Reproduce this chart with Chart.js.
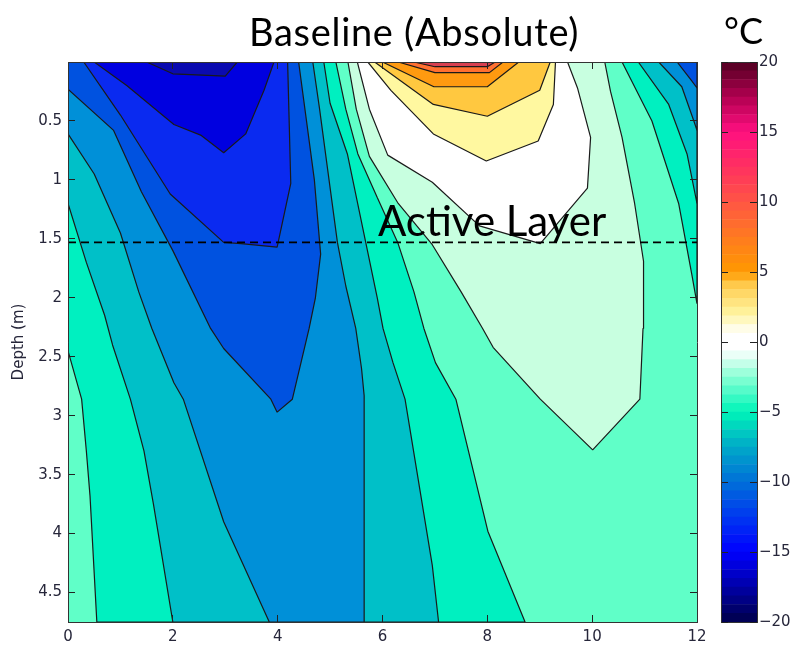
<!DOCTYPE html>
<html>
<head>
<meta charset="utf-8">
<script src="https://cdn.jsdelivr.net/npm/chart.js@4.4.1/dist/chart.umd.min.js"></script>
<style>
  body { margin: 0; background: #fff; width: 790px; height: 651px; position: relative; overflow: hidden; }
  #main { position: absolute; left: 0; top: 0; }
  #cbar { position: absolute; left: 705px; top: 0; }
  .lbl { position: absolute; white-space: nowrap; color: #000; font-family: Lato, sans-serif; line-height: 1; }
</style>
</head>
<body>
<canvas id="main" width="715" height="651"></canvas>
<canvas id="cbar" width="85" height="651"></canvas>
<div class="lbl" style="left:249px; top:12px; font-size:38px; letter-spacing:0.7px;">Baseline (Absolute)</div>
<div class="lbl" style="left:724px; top:12px; font-size:36px;">°C</div>
<div class="lbl" style="left:378px; top:199px; font-size:42px;">Active Layer</div>
<script>
// axes
var xTicks = [0, 2, 4, 6, 8, 10, 12];
var yTicks = [0.5, 1, 1.5, 2, 2.5, 3, 3.5, 4, 4.5];
var cbarTicks = [-20, -15, -10, -5, 0, 5, 10, 15, 20];
var monthMax = 12;
var depthMax = 4.75;
var activeLayerDepth = 1.53;

// contour levels (°C) and fill colour of each band [level i, level i+1]
var bandLevels = [-18, -16, -14, -12, -10, -8, -6, -4, -2, 0, 2, 4, 6, 8, 10, 12];
var bandColors = ['#0a0ab0', '#0000e0', '#0a2af0', '#0052e0', '#0090d8', '#00c0c8', '#00f0c0',
                  '#60ffc8', '#c8ffe0', '#ffffff', '#fff8a0', '#ffc840', '#ff9a10', '#ff7030', '#d84050'];

// contour lines as [month, depth] points
// cold side
var cM16 = [[1.5, 0], [2.0, 0.1], [3.0, 0.12], [3.23, 0]];
var cM14 = [[0.5, 0], [1.12, 0.2], [2.02, 0.53], [2.53, 0.62], [2.97, 0.77], [3.39, 0.61], [3.74, 0.24], [3.93, 0]];
var cM12 = [[0.3, 0], [1.0, 0.45], [1.95, 1.12], [2.97, 1.53], [3.3, 1.54], [3.99, 1.57], [4.25, 1.03], [4.19, 0]];
var cM10 = [[0, 0.23], [0.87, 0.58], [1.4, 1.1], [2.0, 1.6], [2.72, 2.26], [2.97, 2.43], [3.87, 2.86], [3.99, 2.97],
            [4.28, 2.86], [4.6, 2.26], [4.72, 2.0], [4.82, 1.63], [4.7, 1.0], [4.55, 0.5], [4.4, 0]];
var cM10Right = [[11.62, 0], [11.9, 0.16], [12, 0.22]];
var cM8Left = [[0, 0.61], [0.5, 0.95], [1.0, 1.45], [1.35, 1.95], [1.6, 2.26], [2.02, 2.72], [2.2, 2.86], [2.97, 3.9], [3.84, 4.75]];
var cM8Mid = [[4.67, 0], [4.8, 0.4], [4.95, 0.9], [5.14, 1.53], [5.3, 1.9], [5.49, 2.26], [5.6, 2.6], [5.65, 2.83], [5.65, 4.75]];
var cM8Right = [[11.27, 0], [11.71, 0.21], [11.94, 0.5], [12, 0.58]];
var cM6Left = [[0, 1.2], [0.35, 1.7], [0.7, 2.15], [0.85, 2.4], [1.19, 2.86], [1.45, 3.3], [1.63, 3.75], [2.0, 4.75]];
var cM6Mid = [[4.88, 0], [5.0, 0.35], [5.33, 0.78], [5.68, 1.53], [5.9, 2.0], [6.01, 2.26], [6.2, 2.55], [6.43, 2.86], [6.95, 4.27], [7.07, 4.75]];
var cM6Right = [[10.88, 0], [11.46, 0.36], [11.81, 0.78], [12, 1.2]];
var cM4Left = [[0, 2.45], [0.26, 2.86], [0.35, 3.3], [0.42, 3.68], [0.55, 4.75]];
var cM4Mid = [[5.11, 0], [5.3, 0.4], [5.53, 0.78], [5.9, 1.15], [6.29, 1.53], [6.6, 1.95], [6.79, 2.26], [7.01, 2.55], [7.4, 2.86], [8.01, 3.98], [8.72, 4.75]];
var cM4Right = [[10.57, 0], [11.14, 0.5], [11.65, 1.2], [11.9, 1.8], [12, 2.05]];
// warm side
var cM2 = [[5.34, 0], [5.5, 0.4], [5.75, 0.8], [6.3, 1.2], [6.95, 1.55], [7.5, 1.95], [7.91, 2.26], [8.11, 2.42], [9.01, 2.86],
           [10.01, 3.29], [10.91, 2.86], [10.97, 2.26], [10.98, 1.69], [10.81, 1.2], [10.57, 0.64], [10.35, 0.25], [10.24, 0]];
var c0 = [[5.52, 0], [5.75, 0.4], [6.1, 0.79], [6.95, 1.02], [7.85, 1.39], [9.01, 1.54], [9.91, 1.07], [9.97, 0.64], [9.72, 0.22], [9.53, 0]];
var c2 = [[5.72, 0], [6.16, 0.24], [6.97, 0.61], [7.98, 0.84], [8.97, 0.67], [9.26, 0.36], [9.3, 0]];
var c4 = [[5.85, 0], [6.97, 0.36], [8.0, 0.46], [9.0, 0.24], [9.2, 0]];
var c6 = [[6.0, 0], [6.98, 0.21], [8.0, 0.21], [8.6, 0]];
var c8 = [[6.3, 0], [7.0, 0.09], [8.04, 0.09], [8.3, 0]];
var c10 = [[6.6, 0], [7.0, 0.04], [8.0, 0.04], [8.15, 0]];

// colour bar colormap
var cmapStops = [[-20, '#00004a'], [-17.5, '#0000a8'], [-15, '#0000ff'], [-12.5, '#0038f0'], [-10, '#0070d8'],
                 [-7.5, '#00aac8'], [-5, '#00f5b8'], [-2.5, '#8affd4'], [-0.6, '#ffffff'], [0.6, '#ffffff'],
                 [2, '#fff5a0'], [4, '#ffcc50'], [5, '#ff9900'], [7.5, '#ff7a20'], [10, '#ff5545'],
                 [12.5, '#ff3060'], [15, '#ff1080'], [17.5, '#b00050'], [20, '#500020']];

function rev(a) { return a.slice().reverse(); }
function below(level) { return bandColors[bandLevels.indexOf(level) - 1]; }
function above(level) { return bandColors[bandLevels.indexOf(level)]; }

// filled regions, painted in this order (sublevel sets on the cold side, superlevel sets on the warm side)
var regions = [
    { color: above(-4), pts: [[0, 0], [12, 0], [12, depthMax], [0, depthMax]], edge: false },
    { color: below(-4), pts: [[0, 0]].concat(cM4Left, rev(cM4Mid)) },
    { color: below(-4), pts: cM4Right.concat([[12, 0]]) },
    { color: below(-6), pts: [[0, 0]].concat(cM6Left, rev(cM6Mid)) },
    { color: below(-6), pts: cM6Right.concat([[12, 0]]) },
    { color: below(-8), pts: [[0, 0]].concat(cM8Left, rev(cM8Mid)) },
    { color: below(-8), pts: cM8Right.concat([[12, 0]]) },
    { color: below(-10), pts: [[0, 0]].concat(cM10) },
    { color: below(-10), pts: cM10Right.concat([[12, 0]]) },
    { color: below(-12), pts: cM12 },
    { color: below(-14), pts: cM14 },
    { color: below(-16), pts: cM16 },
    { color: above(-2), pts: cM2 },
    { color: above(0), pts: c0 },
    { color: above(2), pts: c2 },
    { color: above(4), pts: c4 },
    { color: above(6), pts: c6 },
    { color: above(8), pts: c8 },
    { color: above(10), pts: c10 }
];

var n = regions.length;
var datasets = regions.map(function (r, i) {
    return {
        data: r.pts.map(function (p) { return { x: p[0], y: p[1] }; }),
        backgroundColor: r.color,
        borderColor: r.edge === false ? 'rgba(0,0,0,0)' : '#1a1a1a',
        borderWidth: 1.2,
        borderJoinStyle: 'bevel',
        fill: 'shape',
        pointRadius: 0,
        tension: 0,
        order: n + 1 - i
    };
});
datasets.push({
    data: [{ x: 0, y: activeLayerDepth }, { x: monthMax, y: activeLayerDepth }],
    borderColor: '#000',
    borderWidth: 1.6,
    borderDash: [8, 5],
    fill: false,
    pointRadius: 0,
    order: 0
});

var tickFont = { family: 'DejaVu Sans', size: 15 };
var tickColor = '#26263a';

function frameAxis(pos, min, max, ticks, showLabels, reverse) {
    var horiz = pos === 'top' || pos === 'bottom';
    return {
        type: 'linear',
        axis: horiz ? 'x' : 'y',
        position: pos,
        min: min,
        max: max,
        reverse: !!reverse,
        afterBuildTicks: function (s) { s.ticks = ticks.map(function (v) { return { value: v }; }); },
        ticks: { display: showLabels, font: tickFont, color: tickColor, padding: 13, maxRotation: 0, z: 1,
                 callback: function (v) { return v < 0 ? '\u2212' + Math.abs(v) : String(v); } },
        grid: { drawOnChartArea: false, tickLength: -7, color: '#222', z: 1 },
        border: { display: true, color: '#333', width: 1, z: 1 }
    };
}

function fixSize(prop, size) {
    return function (s) {
        s[prop] = size;
        s.paddingLeft = 0; s.paddingRight = 0; s.paddingTop = 0; s.paddingBottom = 0;
    };
}

var sx = frameAxis('bottom', 0, monthMax, xTicks, true);
sx.afterFit = fixSize('height', 29);
var sxTop = frameAxis('top', 0, monthMax, xTicks, false);
sxTop.afterFit = fixSize('height', 0);
var sy = frameAxis('left', 0, depthMax, yTicks, true, true);
sy.afterFit = fixSize('width', 68);
sy.title = { display: true, text: 'Depth (m)', font: { family: 'DejaVu Sans', size: 15 }, color: tickColor, padding: { top: 10, bottom: 0 } };
var syRight = frameAxis('right', 0, depthMax, yTicks, false, true);
syRight.afterFit = fixSize('width', 0);

new Chart(document.getElementById('main'), {
    type: 'line',
    data: { datasets: datasets },
    options: {
        responsive: false,
        animation: false,
        devicePixelRatio: 1,
        events: [],
        layout: { padding: { top: 62, right: 18, left: 0, bottom: 0 } },
        plugins: { legend: { display: false }, tooltip: { enabled: false } },
        scales: { x: sx, xTop: sxTop, y: sy, yRight: syRight }
    }
});

// colour bar
function hexRgb(h) { return [parseInt(h.slice(1, 3), 16), parseInt(h.slice(3, 5), 16), parseInt(h.slice(5, 7), 16)]; }
function cmap(v) {
    for (var i = 0; i < cmapStops.length - 1; i++) {
        var a = cmapStops[i], b = cmapStops[i + 1];
        if (v >= a[0] && v <= b[0]) {
            var t = (v - a[0]) / (b[0] - a[0]);
            var A = hexRgb(a[1]), B = hexRgb(b[1]);
            return 'rgb(' + A.map(function (c, k) { return Math.round(c + (B[k] - c) * t); }).join(',') + ')';
        }
    }
    return cmapStops[cmapStops.length - 1][1];
}
var cbarSteps = 64;
var cbarSets = [];
for (var k = 0; k < cbarSteps; k++) {
    var lo = -20 + 40 * k / cbarSteps, hi = -20 + 40 * (k + 1) / cbarSteps;
    cbarSets.push({
        data: [[lo, hi]],
        backgroundColor: cmap((lo + hi) / 2),
        borderWidth: 0,
        barPercentage: 1,
        categoryPercentage: 1,
        grouped: false
    });
}

var cy = frameAxis('right', -20, 20, cbarTicks, true);
cy.ticks.padding = 9;
cy.afterFit = fixSize('width', 33);
var cyLeft = frameAxis('left', -20, 20, cbarTicks, false);
cyLeft.afterFit = fixSize('width', 0);

new Chart(document.getElementById('cbar'), {
    type: 'bar',
    data: { labels: [''], datasets: cbarSets },
    options: {
        responsive: false,
        animation: false,
        devicePixelRatio: 1,
        events: [],
        layout: { padding: { top: 62, left: 16, right: 0, bottom: 0 } },
        plugins: { legend: { display: false }, tooltip: { enabled: false } },
        scales: {
            x: { position: 'bottom', ticks: { display: false }, grid: { display: false },
                 border: { display: true, color: '#333', z: 1 }, afterFit: fixSize('height', 29) },
            xTop: { type: 'linear', axis: 'x', position: 'top', min: 0, max: 1, ticks: { display: false }, grid: { display: false },
                 border: { display: true, color: '#333', z: 1 }, afterFit: fixSize('height', 0) },
            y: cy,
            yLeft: cyLeft
        }
    }
});
</script>
</body>
</html>
